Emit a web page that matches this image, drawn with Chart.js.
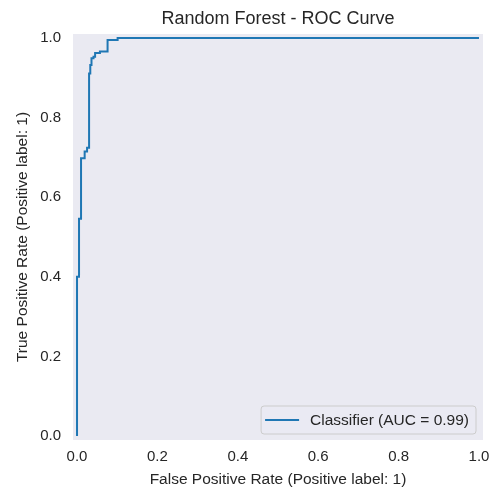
<!DOCTYPE html>
<html>
<head>
<meta charset="utf-8">
<script src="https://cdn.jsdelivr.net/npm/chart.js@4.4.0/dist/chart.umd.min.js"></script>
<style>
  html, body { margin: 0; padding: 0; background: #ffffff; }
  #wrap { width: 500px; height: 495px; }
</style>
</head>
<body>
<div id="wrap"><canvas id="roc"></canvas></div>
<script>
// ROC points (step curve)
const fpr = [0, 0, 0.005, 0.005, 0.010, 0.010, 0.019, 0.019, 0.025, 0.025, 0.030, 0.030,
  0.033, 0.033, 0.036, 0.036, 0.041, 0.041, 0.045, 0.045, 0.057, 0.057, 0.076, 0.076,
  0.101, 0.101, 1.0];
const tpr = [0, 0.400, 0.400, 0.546, 0.546, 0.698, 0.698, 0.715, 0.715, 0.724, 0.724, 0.911,
  0.911, 0.932, 0.932, 0.949, 0.949, 0.953, 0.953, 0.962, 0.962, 0.966, 0.966, 0.995,
  0.995, 1.0, 1.0];
const tickValues = [0, 0.2, 0.4, 0.6, 0.8, 1.0];
const serieLabel = 'Classifier (AUC = 0.99)';
const titulo = 'Random Forest - ROC Curve';

const textColor = '#262626';
const fundo = '#eaeaf2';
const azul = '#1f77b4';
const fonte = '"Liberation Sans", Arial, sans-serif';

const pontos = fpr.map((x, i) => ({ x: x, y: tpr[i] }));

// fundo cinza-azulado da área do gráfico + título centrado na área
const fundoPlugin = {
  id: 'fundo',
  beforeDraw(chart) {
    const a = chart.chartArea;
    const ctx = chart.ctx;
    ctx.save();
    ctx.fillStyle = fundo;
    ctx.fillRect(a.left, a.top, a.right - a.left, a.bottom - a.top);
    ctx.fillStyle = textColor;
    ctx.font = '18px ' + fonte;
    ctx.textAlign = 'center';
    ctx.textBaseline = 'middle';
    ctx.fillText(titulo, (a.left + a.right) / 2, 19);
    ctx.restore();
  }
};

// legenda no canto inferior direito, dentro da área
const legendaPlugin = {
  id: 'legenda',
  afterDatasetsDraw(chart) {
    const a = chart.chartArea;
    const ctx = chart.ctx;
    const ds = chart.data.datasets[0];
    ctx.save();
    ctx.font = '15.5px ' + fonte;
    const tw = ctx.measureText(ds.label).width;
    const w = 4 + 34 + 11 + tw + 7;
    const h = 28;
    const x = a.right - 7 - w;
    const y = a.bottom - 6 - h;
    ctx.beginPath();
    ctx.roundRect(x, y, w, h, 3);
    ctx.fillStyle = 'rgba(234,234,242,0.8)';
    ctx.fill();
    ctx.strokeStyle = '#cccccc';
    ctx.lineWidth = 1;
    ctx.stroke();
    ctx.beginPath();
    ctx.moveTo(x + 4, y + h / 2);
    ctx.lineTo(x + 38, y + h / 2);
    ctx.strokeStyle = ds.borderColor;
    ctx.lineWidth = 2;
    ctx.stroke();
    ctx.fillStyle = textColor;
    ctx.textBaseline = 'middle';
    ctx.fillText(ds.label, x + 49, y + h / 2 + 1);
    ctx.restore();
  }
};

const ctx = document.getElementById('roc').getContext('2d');
const grafico = new Chart(ctx, {
  type: 'scatter',
  data: {
    datasets: [{
      label: serieLabel,
      data: pontos,
      showLine: true,
      borderColor: azul,
      backgroundColor: azul,
      borderWidth: 2,
      pointRadius: 0,
      tension: 0
    }]
  },
  options: {
    responsive: true,
    maintainAspectRatio: false,
    animation: false,
    layout: { padding: { left: 0, right: 17, top: 34, bottom: 0 } },
    plugins: {
      legend: { display: false },
      tooltip: { enabled: false },
      title: { display: false }
    },
    scales: {
      x: {
        type: 'linear',
        min: -0.01,
        max: 1.01,
        grid: { display: false, drawTicks: false },
        border: { display: false },
        afterBuildTicks: (s) => { s.ticks = tickValues.map(v => ({ value: v })); },
        afterFit: (s) => { s.height = 55; },
        ticks: {
          color: textColor,
          padding: 8,
          maxRotation: 0,
          font: { family: fonte, size: 15 },
          callback: (v) => v.toFixed(1)
        },
        title: {
          display: true,
          text: 'False Positive Rate (Positive label: 1)',
          color: textColor,
          font: { family: fonte, size: 15.5 },
          padding: { top: 4, bottom: 6 }
        }
      },
      y: {
        type: 'linear',
        min: -0.01,
        max: 1.01,
        grid: { display: false, drawTicks: false },
        border: { display: false },
        afterBuildTicks: (s) => { s.ticks = tickValues.map(v => ({ value: v })); },
        afterFit: (s) => { s.width = 73; },
        ticks: {
          color: textColor,
          padding: 12,
          font: { family: fonte, size: 15 },
          callback: (v) => v.toFixed(1)
        },
        title: {
          display: true,
          text: 'True Positive Rate (Positive label: 1)',
          color: textColor,
          font: { family: fonte, size: 15.5 },
          padding: { top: 13, bottom: 0 }
        }
      }
    }
  },
  plugins: [fundoPlugin, legendaPlugin]
});
</script>
</body>
</html>
